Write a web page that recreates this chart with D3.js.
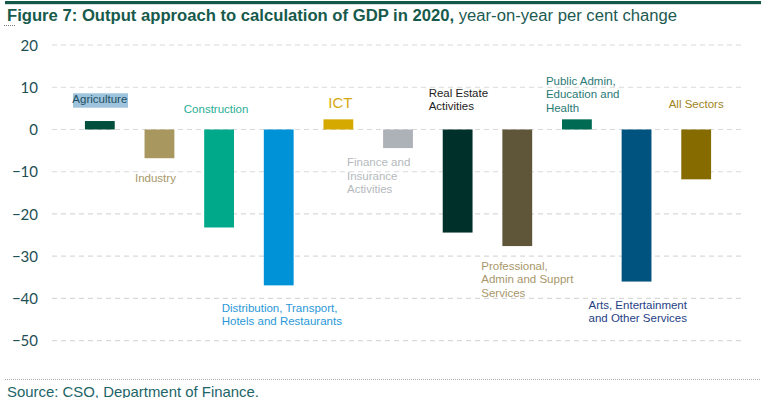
<!DOCTYPE html>
<html><head><meta charset="utf-8">
<script src="https://cdn.jsdelivr.net/npm/d3@7"></script>
<style>body{margin:0;background:#fff}svg{display:block}</style>
</head><body>
<svg id="c" width="763" height="398"></svg>
<script>
const categories = ["Agriculture","Industry","Construction","Distribution","ICT","Finance","Real Estate","Professional","Public Admin","Arts","All Sectors"];
const values = [2.0,-6.8,-23.2,-36.9,2.4,-4.4,-24.4,-27.6,2.4,-36.0,-11.8];
const barColors = ["#004f3d","#a8975f","#00a98a","#0092d6","#d5a900","#adb2b8","#00302a","#5f563a","#006b52","#00537f","#866c00"];
const labelLines = [["Agriculture"],["Industry"],["Construction"],["Distribution, Transport,","Hotels and Restaurants"],["ICT"],["Finance and","Insurance","Activities"],["Real Estate","Activities"],["Professional,","Admin and Supprt","Services"],["Public Admin,","Education and","Health"],["Arts, Entertainment","and Other Services"],["All Sectors"]];
const labelColors = ["#1f4f5f","#a8976a","#2aae96","#2a98d8","#d5aa10","#b5b9bd","#1e1e1e","#a8976a","#2b7a76","#263f85","#a08420"];
const yTicks = [20,10,0,-10,-20,-30,-40,-50];

// label placement (layout): [dx from band center, baseline in value units, anchor, fontSize]
const labelLayout = [
  [0, 6.3, "middle", 11.5],
  [-4, -12.4, "middle", 11.5],
  [-3, 3.9, "middle", 11.5],
  [-57, -43.2, "start", 11.5],
  [2, 5.0, "middle", 15],
  [-51, -8.7, "start", 11.5],
  [-29, 7.7, "start", 11.5],
  [-36, -33.3, "start", 11.5],
  [-31, 10.5, "start", 11.5],
  [-48, -42.4, "start", 11.5],
  [0, 5.2, "middle", 11.5]
];

const svg = d3.select("#c");
const x = d3.scaleBand().domain(categories).range([70,726]).paddingInner(0.5).paddingOuter(0.25);
const y = d3.scaleLinear().domain([-50,20]).range([340.7,45]);

// top rule
svg.append("rect").attr("x",5).attr("y",1).attr("width",756).attr("height",3.2).attr("fill","#14584a");

// title
const lf = "'Liberation Sans',Arial,sans-serif";
const title = svg.append("text").attr("x",7).attr("y",20.7).attr("font-family",lf)
  .attr("font-size",16).attr("textLength",670).attr("lengthAdjust","spacingAndGlyphs");
title.append("tspan").attr("font-weight","bold").attr("fill","#175a4c").text("Figure 7: Output approach to calculation of GDP in 2020,");
title.append("tspan").attr("fill","#1d5a52").text(" year-on-year per cent change");
svg.append("line").attr("x1",4).attr("x2",15).attr("y1",25.5).attr("y2",25.5).attr("stroke","#777").attr("stroke-width",1).attr("stroke-dasharray","1,1");

// gridlines
svg.append("g").selectAll("line").data(yTicks).join("line")
  .attr("x1",52).attr("x2",743).attr("y1",d=>y(d)).attr("y2",d=>y(d))
  .attr("stroke","#d9d9d9").attr("stroke-width",1.2).attr("stroke-dasharray","5,4");

// y axis labels
const yAxis = d3.axisLeft(y).tickValues(yTicks).tickSize(0).tickPadding(0).tickFormat(d3.format("d"));
const ga = svg.append("g").attr("transform","translate(38,0)").call(yAxis);
ga.select(".domain").remove();
ga.selectAll("text").attr("font-family","Lato,'Open Sans',sans-serif").attr("font-size",15).attr("fill","#1e4f55").attr("dy","0.35em");

// bars
svg.append("g").selectAll("rect").data(categories).join("rect")
  .attr("x",d=>x(d)).attr("width",x.bandwidth())
  .attr("y",(d,i)=>y(Math.max(0,values[i])))
  .attr("height",(d,i)=>Math.abs(y(values[i])-y(0)))
  .attr("fill",(d,i)=>barColors[i]);

// labels
categories.forEach((c,i)=>{
  const L = labelLayout[i];
  const cx = x(c)+x.bandwidth()/2 + L[0];
  const by = y(L[1]);
  const g = svg.append("g");
  const t = g.append("text").attr("font-family",lf).attr("font-size",L[3]).attr("fill",labelColors[i]).attr("text-anchor",L[2]);
  labelLines[i].forEach((ln,k)=>{
    t.append("tspan").attr("x",cx).attr("y",by + k*13.3).text(ln);
  });
  if(i===0){
    g.insert("rect","text").attr("x",73).attr("y",93.3).attr("width",55).attr("height",14.4).attr("fill","#9dc3dd");
  }
});

// bottom separator & source
svg.append("line").attr("x1",5).attr("x2",760).attr("y1",379.5).attr("y2",379.5).attr("stroke","#aaa").attr("stroke-width",1).attr("stroke-dasharray","1,1");
svg.append("text").attr("x",7).attr("y",396.5).attr("font-family",lf).attr("font-size",15).attr("fill","#1d6568")
  .attr("textLength",252).attr("lengthAdjust","spacingAndGlyphs").text("Source: CSO, Department of Finance.");
</script>
</body></html>
